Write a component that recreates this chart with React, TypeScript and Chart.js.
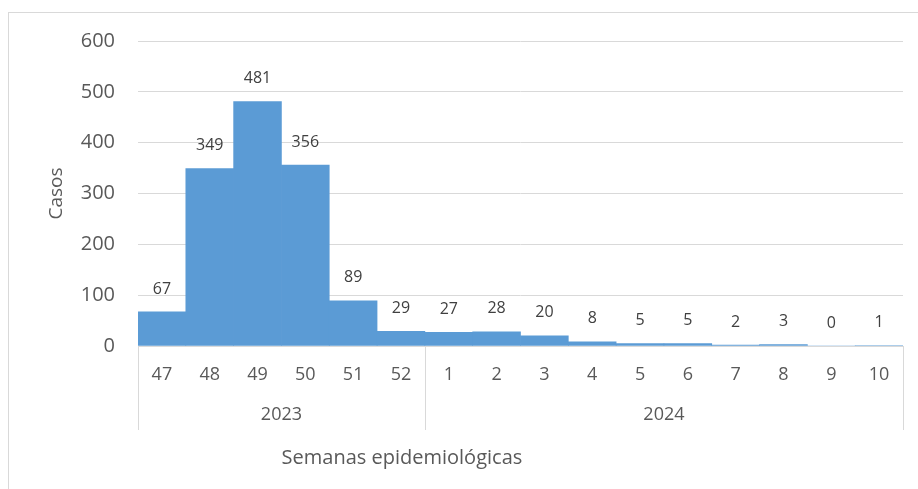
import React, { useEffect, useRef } from "react";
import { Chart, registerables } from "chart.js";

Chart.register(...registerables);

const weeks = ["47", "48", "49", "50", "51", "52", "1", "2", "3", "4", "5", "6", "7", "8", "9", "10"];
const cases = [67, 349, 481, 356, 89, 29, 27, 28, 20, 8, 5, 5, 2, 3, 0, 1];
const years = ["2023", "2024"];
const weeksPerYear = [6, 10];
const yMax = 600;
const yStep = 100;
const yTitle = "Casos";
const xTitle = "Semanas epidemiológicas";

const FONT = "'Open Sans', sans-serif";
const TEXT = "#595959";
const LINE = "#d9d9d9";

export default function App() {
  const ref = useRef<HTMLCanvasElement>(null);

  useEffect(() => {
    document.body.style.margin = "0";
    const canvas = ref.current;
    if (!canvas) return;

    const decor = {
      id: "decor",
      beforeDraw(chart: any) {
        const ctx = chart.ctx;
        ctx.save();
        ctx.strokeStyle = LINE;
        ctx.lineWidth = 1;
        ctx.strokeRect(8.5, 12.5, 2000, 2000);
        ctx.restore();
      },
      afterDraw(chart: any) {
        const ctx = chart.ctx;
        const area = chart.chartArea;
        const x = chart.scales.x;
        const y = chart.scales.y;
        const half = (x.getPixelForValue(1) - x.getPixelForValue(0)) / 2;
        const edge = (i: number) =>
          i >= weeks.length ? x.getPixelForValue(weeks.length - 1) + half : x.getPixelForValue(i) - half;

        ctx.save();
        // group separators
        ctx.strokeStyle = LINE;
        ctx.lineWidth = 1;
        const bounds = [0];
        let acc = 0;
        weeksPerYear.forEach((n) => {
          acc += n;
          bounds.push(acc);
        });
        bounds.forEach((b) => {
          const px = Math.round(edge(b)) + 0.5;
          ctx.beginPath();
          ctx.moveTo(px, area.bottom);
          ctx.lineTo(px, area.bottom + 84);
          ctx.stroke();
        });
        // year labels
        ctx.fillStyle = TEXT;
        ctx.font = `18px ${FONT}`;
        ctx.textAlign = "center";
        ctx.textBaseline = "middle";
        for (let i = 0; i < years.length; i++) {
          const cx = (edge(bounds[i]) + edge(bounds[i + 1])) / 2;
          ctx.fillText(years[i], cx, area.bottom + 69);
        }
        // x title
        ctx.font = `20px ${FONT}`;
        ctx.fillText(xTitle, area.left + (area.right - area.left) * 0.345, area.bottom + 112);
        // y title
        ctx.save();
        ctx.font = `19px ${FONT}`;
        ctx.translate(57, (area.top + area.bottom) / 2);
        ctx.rotate(-Math.PI / 2);
        ctx.fillText(yTitle, 0, 0);
        ctx.restore();
        // data labels
        ctx.font = `16px ${FONT}`;
        ctx.fillStyle = "#404040";
        cases.forEach((v, i) => {
          ctx.fillText(String(v), x.getPixelForValue(i), y.getPixelForValue(v) - 23);
        });
        ctx.restore();
      },
    };

    const chart = new Chart(canvas, {
      type: "bar",
      data: {
        labels: weeks,
        datasets: [
          {
            data: cases,
            backgroundColor: "#5b9bd5",
            borderWidth: 0,
            categoryPercentage: 1,
            barPercentage: 1,
          },
        ],
      },
      options: {
        animation: false,
        responsive: false,
        maintainAspectRatio: false,
        events: [],
        layout: { padding: { left: 8, top: 41, right: 15, bottom: 0 } },
        plugins: { legend: { display: false }, tooltip: { enabled: false }, title: { display: false } },
        scales: {
          x: {
            grid: { display: false, drawTicks: false },
            border: { display: true, color: LINE, width: 1 },
            ticks: { color: TEXT, font: { family: FONT, size: 18 }, padding: 18, maxRotation: 0, autoSkip: false },
            afterFit: (s: any) => {
              s.height = 143;
            },
          },
          y: {
            min: 0,
            max: yMax,
            grid: { color: LINE, lineWidth: 1, drawTicks: false },
            border: { display: false },
            ticks: { stepSize: yStep, color: TEXT, font: { family: FONT, size: 20 }, padding: 23 },
            afterFit: (s: any) => {
              s.width = 130;
            },
          },
        },
      },
      plugins: [decor],
    });

    return () => chart.destroy();
  }, []);

  return (
    <div style={{ width: 918, height: 489 }}>
      <canvas ref={ref} width={918} height={489} style={{ display: "block" }} />
    </div>
  );
}
